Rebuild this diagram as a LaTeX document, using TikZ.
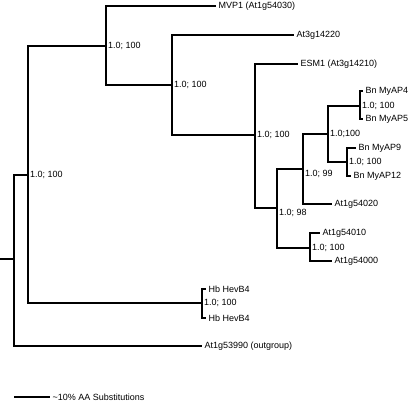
\documentclass[tikz,border=0pt]{standalone}
\usepackage{fontspec}
\setmainfont{Liberation Sans}
\usetikzlibrary{positioning}

\begin{document}
\begin{tikzpicture}[x=1pt,y=-1pt,
  branch/.style={line width=2.4pt},
  leaf/.style={anchor=west,inner sep=2.5pt,font=\fontsize{9}{10}\selectfont},
  boot/.style={anchor=west,inner sep=1.8pt,font=\fontsize{9}{10}\selectfont}]

  \useasboundingbox (0,0) rectangle (415,401);

  % internal nodes of the tree (x = depth, y = junction with parent)
  \coordinate (stub) at (0,259);
  \coordinate (root) at (14,259);
  \coordinate (nA) at (28,175);
  \coordinate (nB) at (106,46);
  \coordinate (nC) at (172,85);
  \coordinate (nD) at (255,135);
  \coordinate (nE) at (277,208);
  \coordinate (nF) at (303,169);
  \coordinate (nG) at (328,134);
  \coordinate (nH) at (360,106);
  \coordinate (nI) at (347,162);
  \coordinate (nJ) at (310,248);
  \coordinate (nK) at (202,303);

  % leaves
  \node[leaf] (mvp)   at (216,6)   {MVP1 (At1g54030)};
  \node[leaf] (a3g20) at (294,35)  {At3g14220};
  \node[leaf] (esm)   at (298,64)  {ESM1 (At3g14210)};
  \node[leaf] (bn4)   at (363,91)  {Bn MyAP4};
  \node[leaf] (bn5)   at (363,119) {Bn MyAP5};
  \node[leaf] (bn9)   at (356,148) {Bn MyAP9};
  \node[leaf] (bn12)  at (351,176) {Bn MyAP12};
  \node[leaf] (a1g20) at (332,204) {At1g54020};
  \node[leaf] (a1g10) at (320,233) {At1g54010};
  \node[leaf] (a1g00) at (332,261) {At1g54000};
  \node[leaf] (hb1)   at (206,289) {Hb HevB4};
  \node[leaf] (hb2)   at (206,318) {Hb HevB4};
  \node[leaf] (out)   at (202,346) {At1g53990 (outgroup)};

  % branches
  \draw[branch] (stub) -- (root);
  \draw[branch] (root) |- (nA);
  \draw[branch] (root) |- (out.west);
  \draw[branch] (nA) |- (nB);
  \draw[branch] (nA) |- (nK);
  \draw[branch] (nB) |- (mvp.west);
  \draw[branch] (nB) |- (nC);
  \draw[branch] (nC) |- (a3g20.west);
  \draw[branch] (nC) |- (nD);
  \draw[branch] (nD) |- (esm.west);
  \draw[branch] (nD) |- (nE);
  \draw[branch] (nE) |- (nF);
  \draw[branch] (nE) |- (nJ);
  \draw[branch] (nF) |- (nG);
  \draw[branch] (nF) |- (a1g20.west);
  \draw[branch] (nG) |- (nH);
  \draw[branch] (nG) |- (nI);
  \draw[branch] (nH) |- (bn4.west);
  \draw[branch] (nH) |- (bn5.west);
  \draw[branch] (nI) |- (bn9.west);
  \draw[branch] (nI) |- (bn12.west);
  \draw[branch] (nJ) |- (a1g10.west);
  \draw[branch] (nJ) |- (a1g00.west);
  \draw[branch] (nK) |- (hb1.west);
  \draw[branch] (nK) |- (hb2.west);

  % support values
  \node[boot] (bA) at (nA) {1.0; 100};
  \node[boot] (bB) at (nB) {1.0; 100};
  \node[boot] (bC) at (nC) {1.0; 100};
  \node[boot] (bD) at (nD) {1.0; 100};
  \node[boot,yshift=-5pt] (bE) at (nE) {1.0; 98};
  \node[boot,yshift=-5pt] (bF) at (nF) {1.0; 99};
  \node[boot] (bG) at (nG) {1.0;100};
  \node[boot] (bH) at (nH) {1.0; 100};
  \node[boot] (bI) at (nI) {1.0; 100};
  \node[boot] (bJ) at (nJ) {1.0; 100};
  \node[boot] (bK) at (nK) {1.0; 100};

  % scale bar
  \coordinate (sbar) at (14,397);
  \node[leaf] (sbtext) at (50,397) {\textasciitilde10\% AA Substitutions};
  \draw[branch] (sbar) -- (sbtext.west);
\end{tikzpicture}
\end{document}
